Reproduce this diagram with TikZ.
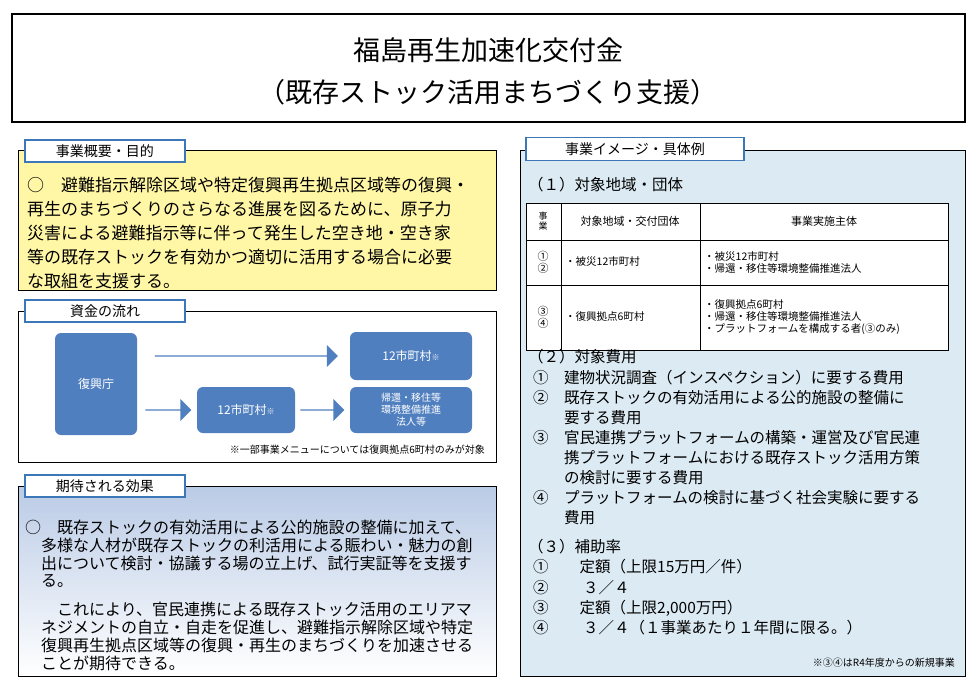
\documentclass[tikz,border=0pt]{standalone}
\usepackage{fontspec}
\setmainfont{Noto Sans CJK JP}
\usetikzlibrary{arrows.meta,shapes.arrows}
\definecolor{tabb}{HTML}{3C78B8}
\definecolor{nodeb}{HTML}{4F7FBF}
\definecolor{yel}{HTML}{FFF7A6}
\definecolor{rbg}{HTML}{DCEAF3}
\definecolor{gtop}{HTML}{BACBE6}
\tikzset{
 tab/.style={draw=tabb,line width=1.2pt,fill=white,inner sep=0pt,font=\fontsize{14}{14}\selectfont},
 flow/.style={fill=nodeb,rounded corners=6pt,text=white,align=center,font=\fontsize{12}{14}\selectfont,inner sep=0pt},
 body/.style={anchor=west,inner sep=0pt,font=\fontsize{17}{17}\selectfont},
 bodyb/.style={anchor=west,inner sep=0pt,font=\fontsize{16}{16}\selectfont},
 bodyr/.style={anchor=west,inner sep=0pt,font=\fontsize{15.5}{15.5}\selectfont},
 small/.style={anchor=west,inner sep=0pt,font=\fontsize{10.5}{12}\selectfont,align=left},
 farrow/.style={fill=nodeb,single arrow,single arrow head extend=4pt,minimum height=0pt,inner sep=0pt},
}
\begin{document}
\begin{tikzpicture}[x=1pt,y=-1pt]
\useasboundingbox (0,0) rectangle (978,691);
% title
\draw[line width=1.3pt] (12,14) rectangle (965,122);
\node[font=\fontsize{27}{27}\selectfont] (t1) at (488,50) {福島再生加速化交付金};
\node[font=\fontsize{27}{27}\selectfont] (t2) at (488,92) {（既存ストック活用まちづくり支援）};
% panel 1
\draw[fill=yel,line width=1pt] (18,150) rectangle (496,290);
\node[tab,minimum width=160pt,minimum height=22pt] (tab1) at (105,151) {事業概要・目的};
\foreach \y/\s in {187/{○　避難指示解除区域や特定復興再生拠点区域等の復興・},211/{再生のまちづくりのさらなる進展を図るために、原子力},235/{災害による避難指示等に伴って発生した空き地・空き家},259/{等の既存ストックを有効かつ適切に活用する場合に必要},283/{な取組を支援する。}}
 \node[body] at (27,\y-2) {\s};
% panel 2
\draw[line width=1pt] (18,311) rectangle (496,462);
\node[tab,minimum width=160pt,minimum height=22pt] (tab2) at (105,311) {資金の流れ};
\path[flow] (55,333) rectangle (137,435);
\node[text=white,font=\fontsize{12}{14}\selectfont] (f0) at (96,384) {復興庁};
\path[flow] (350,332) rectangle (472,380);
\node[text=white,font=\fontsize{12}{14}\selectfont] (f1) at (411,356) {12市町村\fontsize{8}{8}\selectfont ※};
\path[flow] (197,387) rectangle (295,433);
\node[text=white,font=\fontsize{12}{14}\selectfont] (f2) at (246,410) {12市町村\fontsize{8}{8}\selectfont ※};
\path[flow] (350,387) rectangle (472,433);
\node[text=white,align=center,font=\fontsize{10}{12}\selectfont] (f3) at (411,410) {帰還・移住等\\環境整備推進\\法人等};
\node[farrow,minimum width=22pt,minimum height=183pt] (a1) at (246,356) {};
\node[farrow,minimum width=22pt,minimum height=46pt] (a2) at (168,410) {};
\node[farrow,minimum width=22pt,minimum height=44pt] (a3) at (322,410) {};
\node[anchor=east,inner sep=0pt,font=\fontsize{10}{10}\selectfont] (n2) at (485,450) {※一部事業メニューについては復興拠点6町村のみが対象};
% panel 3
\shade[top color=gtop,bottom color=white] (18,486) rectangle (496,676);
\draw[line width=1pt] (18,486) rectangle (496,676);
\node[tab,minimum width=160pt,minimum height=22pt] (tab3) at (105,486) {期待される効果};
\foreach \y/\s in {527/{○　既存ストックの有効活用による公的施設の整備に加えて、},545/{　多様な人材が既存ストックの利活用による賑わい・魅力の創},563/{　出について検討・協議する場の立上げ、試行実証等を支援す},581/{　る。},609/{　　これにより、官民連携による既存ストック活用のエリアマ},627/{　ネジメントの自立・自走を促進し、避難指示解除区域や特定},645/{　復興再生拠点区域等の復興・再生のまちづくりを加速させる},663/{　ことが期待できる。}}
 \node[bodyb] at (25,\y) {\s};
% right panel
\draw[fill=rbg,line width=1pt] (520,150) rectangle (965,676);
\node[tab,minimum width=218pt,minimum height=23pt] (tab4) at (635,149) {事業イメージ・具体例};
\node[bodyr] at (528,185) {（１）対象地域・団体};
\fill[white] (526,203) rectangle (948,350);
\draw[line width=0.8pt] (526,203) rectangle (948,350);
\draw (561,203) -- (561,350) (700,203) -- (700,350) (526,240) -- (948,240) (526,285) -- (948,285);
\node[align=center,inner sep=0pt,font=\fontsize{9}{10}\selectfont] at (543,221) {事\\業};
\node[inner sep=0pt,font=\fontsize{11}{11}\selectfont] at (630,221) {対象地域・交付団体};
\node[inner sep=0pt,font=\fontsize{11}{11}\selectfont] at (824,221) {事業実施主体};
\node[align=center,inner sep=0pt,font=\fontsize{11}{12}\selectfont] at (543,262) {①\\②};
\node[align=center,inner sep=0pt,font=\fontsize{11}{12}\selectfont] at (543,317) {③\\④};
\node[small] at (565,262) {・被災12市町村};
\node[small] at (565,317) {・復興拠点6町村};
\node[small] at (704,262) {・被災12市町村\\・帰還・移住等環境整備推進法人};
\node[small] at (704,317) {・復興拠点6町村\\・帰還・移住等環境整備推進法人\\・プラットフォームを構成する者(③のみ)};
\node[bodyr] at (528,357) {（２）対象費用};
\foreach \y/\s in {378/{①　建物状況調査（インスペクション）に要する費用},398/{②　既存ストックの有効活用による公的施設の整備に},418/{　　要する費用},438/{③　官民連携プラットフォームの構築・運営及び官民連},458/{　　携プラットフォームにおける既存ストック活用方策},478/{　　の検討に要する費用},498/{④　プラットフォームの検討に基づく社会実験に要する},518/{　　費用}}
 \node[bodyr] at (533,\y) {\s};
\node[bodyr] at (528,547) {（３）補助率};
\foreach \y/\s in {567/{①　　定額（上限15万円／件）},588/{②　　 ３／４},608/{③　　定額（上限2,000万円）},628/{④　　 ３／４（１事業あたり１年間に限る。）}}
 \node[bodyr] at (533,\y) {\s};
\node[anchor=east,inner sep=0pt,font=\fontsize{10}{10}\selectfont] at (955,663) {※③④はR4年度からの新規事業};
\end{tikzpicture}
\end{document}
